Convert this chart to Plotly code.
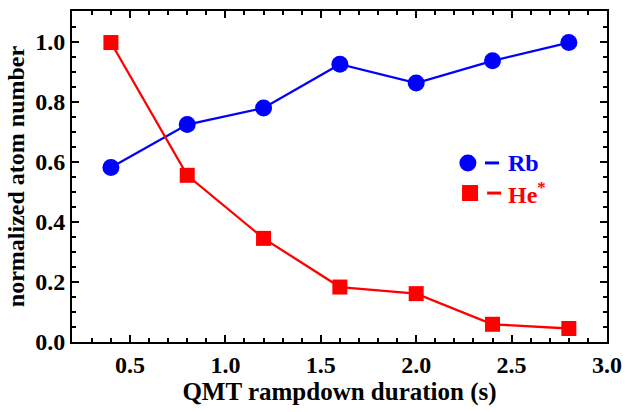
import plotly.graph_objects as go

durations = [0.4, 0.8, 1.2, 1.6, 2.0, 2.4, 2.8]
rb_values = [0.581, 0.724, 0.779, 0.925, 0.862, 0.936, 0.997]
he_values = [0.997, 0.555, 0.345, 0.183, 0.161, 0.059, 0.045]
x_ticks = [0.5, 1.0, 1.5, 2.0, 2.5, 3.0]
y_ticks = [0.0, 0.2, 0.4, 0.6, 0.8, 1.0]

FONT = "Liberation Serif"
BLUE = "#0000ff"
RED = "#ff0000"

fig = go.Figure()
fig.add_trace(go.Scatter(x=durations, y=rb_values, mode="lines+markers",
                         line=dict(color=BLUE, width=2.3),
                         marker=dict(symbol="circle", size=17, color=BLUE),
                         name="Rb", showlegend=False))
fig.add_trace(go.Scatter(x=durations, y=he_values, mode="lines+markers",
                         line=dict(color=RED, width=2.3),
                         marker=dict(symbol="square", size=15, color=RED),
                         name="He*", showlegend=False))

axis_common = dict(showline=True, linewidth=2, linecolor="black", mirror="ticks",
                   ticks="inside", ticklen=7, tickwidth=1.5, tickcolor="black",
                   showgrid=False, zeroline=False, automargin=False,
                   tickfont=dict(family=FONT, size=24, color="black", weight="bold"))

fig.update_xaxes(range=[0.196, 3.0], tickvals=x_ticks,
                 ticktext=[f"{v:.1f}" for v in x_ticks],
                 minor=dict(dtick=0.1, ticks="inside", ticklen=4, tickcolor="black", tickwidth=1.5),
                 title=dict(text="<b>QMT rampdown duration (s)</b>",
                            font=dict(family=FONT, size=25, color="black"), standoff=0),
                 **axis_common)
fig.update_yaxes(range=[0, 1.102], tickvals=y_ticks,
                 ticktext=[f"{v:.1f}" for v in y_ticks],
                 minor=dict(dtick=0.05, ticks="inside", ticklen=4, tickcolor="black", tickwidth=1.5),
                 title=dict(text="<b>normalized atom number</b>",
                            font=dict(family=FONT, size=24, color="black"), standoff=4),
                 **axis_common)

# custom legend: marker, short dash, label
legend_items = [("circle", BLUE, "Rb", 0.541), ("square", RED, "He<sup>*</sup>", 0.45)]
for sym, col, label, ypos in legend_items:
    if sym == "circle":
        fig.add_shape(type="circle", xref="paper", yref="paper", xsizemode="pixel", ysizemode="pixel",
                      xanchor=0.740, yanchor=ypos, x0=-8.5, x1=8.5, y0=-8.5, y1=8.5,
                      fillcolor=col, line=dict(width=0))
        dash_x = 0.785
    else:
        fig.add_shape(type="rect", xref="paper", yref="paper", xsizemode="pixel", ysizemode="pixel",
                      xanchor=0.744, yanchor=ypos, x0=-8, x1=8, y0=-8, y1=8,
                      fillcolor=col, line=dict(width=0))
        dash_x = 0.789
    fig.add_shape(type="line", xref="paper", yref="paper", xsizemode="pixel", ysizemode="pixel",
                  xanchor=dash_x, yanchor=ypos, x0=-7, x1=7, y0=0, y1=0,
                  line=dict(color=col, width=3))
    fig.add_annotation(xref="paper", yref="paper", x=0.812, y=ypos, xanchor="left", yanchor="middle",
                       text=f"<b>{label}</b>", showarrow=False,
                       font=dict(family=FONT, size=24, color=col))

fig.update_layout(width=625, height=412, margin=dict(l=72, r=18, t=11, b=70),
                  plot_bgcolor="white", paper_bgcolor="white",
                  font=dict(family=FONT, color="black"))

fig.write_html("out.html")
